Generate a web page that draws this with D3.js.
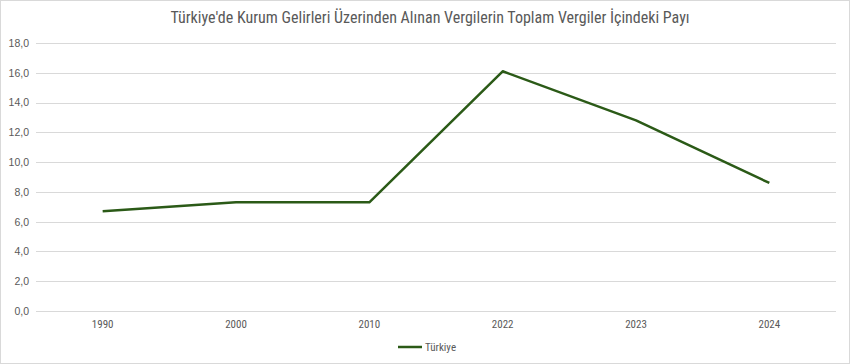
<!DOCTYPE html>
<meta charset="utf-8">
<title>Kurum vergileri</title>
<script src="https://cdn.jsdelivr.net/npm/d3@7"></script>
<style>
  body { margin: 0; background: #fff; }
  text { font-family: "Liberation Sans Narrow", "Roboto Condensed", "Liberation Sans", sans-serif; fill: #595959; }
  .yax text { font-family: "Liberation Sans", Arial, sans-serif; }
</style>
<body>
<script>

var years = ["1990", "2000", "2010", "2022", "2023", "2024"]
   ,shares = [6.7, 7.3, 7.3, 16.1, 12.8, 8.6]
   ,yTicks = [0, 2, 4, 6, 8, 10, 12, 14, 16, 18]
   ,seriesName = "Türkiye"
   ,title = "Türkiye'de Kurum Gelirleri Üzerinden Alınan Vergilerin Toplam Vergiler İçindeki Payı";

var w = 850, h = 364
   ,plotLeft = 36, plotRight = 836, plotTop = 43, plotBottom = 311
   ,green = "#2b5a17";

var svg = d3.select("body").append("svg")
            .attr("width", w)
            .attr("height", h);

// outer border
svg.append("rect")
  .attr("x", 0.5).attr("y", 0.5)
  .attr("width", w - 1).attr("height", h - 1)
  .attr("fill", "#fff")
  .attr("stroke", "#d9d9d9");

svg.append("text")
  .attr("x", 430).attr("y", 23)
  .attr("text-anchor", "middle")
  .style("font-size", "16px")
  .text(title);

var x = d3.scaleBand().domain(years).range([plotLeft, plotRight]);
var y = d3.scaleLinear().domain([0, 18]).range([plotBottom, plotTop]);

// gridlines
svg.selectAll(".grid")
  .data(yTicks)
  .enter().append("line")
  .attr("x1", plotLeft).attr("x2", plotRight)
  .attr("y1", function (d) { return Math.round(y(d)) + 0.5 })
  .attr("y2", function (d) { return Math.round(y(d)) + 0.5 })
  .attr("stroke", "#d9d9d9")
  .attr("stroke-width", 1);

// y labels
var fmt = function (d) { return d.toFixed(1).replace(".", ",") };
var yAxis = d3.axisLeft(y).tickValues(yTicks).tickFormat(fmt).tickSize(0).tickPadding(7);
var gy = svg.append("g").attr("class", "yax").attr("transform", "translate(" + plotLeft + ",0)").call(yAxis);
gy.select(".domain").remove();
gy.selectAll("text").style("font-size", "10.5px").attr("fill", "#595959").style("font-family", null);

// x labels
var xAxis = d3.axisBottom(x).tickSize(0).tickPadding(9);
var gx = svg.append("g").attr("transform", "translate(0," + plotBottom + ")").call(xAxis);
gx.select(".domain").remove();
gx.selectAll("text").style("font-size", "11px").attr("fill", "#595959").style("font-family", null);

// line
var line = d3.line()
  .x(function (d, i) { return x(years[i]) + x.bandwidth() / 2 })
  .y(function (d) { return y(d) });

svg.append("path")
  .datum(shares)
  .attr("d", line)
  .attr("fill", "none")
  .attr("stroke", green)
  .attr("stroke-width", 2.5)
  .attr("stroke-linejoin", "round");

// legend
var lg = svg.append("g").attr("transform", "translate(398,347)");
lg.append("line")
  .attr("x1", 0).attr("x2", 24)
  .attr("stroke", green).attr("stroke-width", 2.5);
lg.append("text")
  .attr("x", 27).attr("y", 4)
  .style("font-size", "11px")
  .text(seriesName);

</script>
